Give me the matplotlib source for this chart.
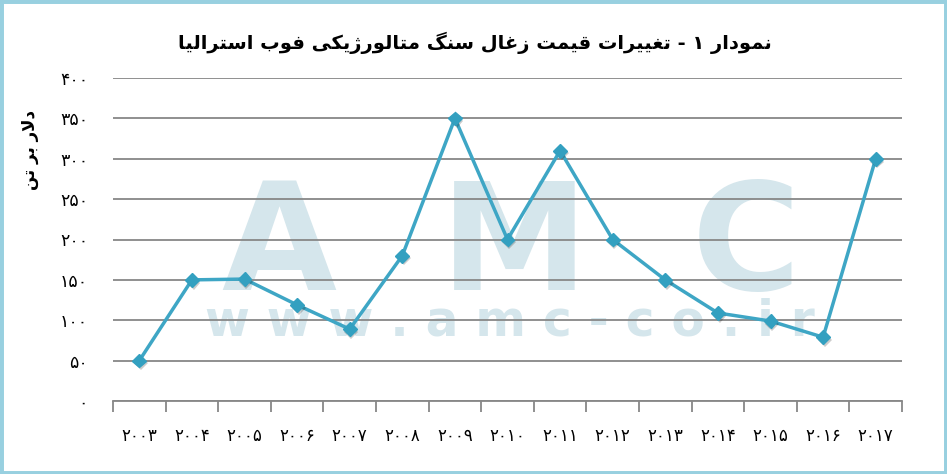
import matplotlib
matplotlib.use("Agg")
import matplotlib.pyplot as plt
from matplotlib.patches import Rectangle
import matplotlib.patheffects as pe

# ---------------- data ----------------
years = ["۲۰۰۳", "۲۰۰۴", "۲۰۰۵", "۲۰۰۶", "۲۰۰۷", "۲۰۰۸", "۲۰۰۹", "۲۰۱۰",
         "۲۰۱۱", "۲۰۱۲", "۲۰۱۳", "۲۰۱۴", "۲۰۱۵", "۲۰۱۶", "۲۰۱۷"]
prices = [50, 150, 151, 119, 89, 180, 350, 200, 310, 200, 150, 109, 99, 79, 300]
y_ticks = [0, 50, 100, 150, 200, 250, 300, 350, 400]
title_text = "نمودار ۱ - تغییرات قیمت زغال سنگ متالورژیکی فوب استرالیا"
ylabel_text = "دلار بر تن"
wm_big = "A  M  C"
wm_small = "w w w . a m c - c o . i r"

# ---------------- simple Persian shaping (presentation forms + visual order) ----------------
FORMS = {
    'ا': ('\uFE8D', '\uFE8E', None, None),
    'ب': ('\uFE8F', '\uFE90', '\uFE91', '\uFE92'),
    'ت': ('\uFE95', '\uFE96', '\uFE97', '\uFE98'),
    'د': ('\uFEA9', '\uFEAA', None, None),
    'ر': ('\uFEAD', '\uFEAE', None, None),
    'ز': ('\uFEAF', '\uFEB0', None, None),
    'ژ': ('\uFB8A', '\uFB8B', None, None),
    'س': ('\uFEB1', '\uFEB2', '\uFEB3', '\uFEB4'),
    'غ': ('\uFECD', '\uFECE', '\uFECF', '\uFED0'),
    'ف': ('\uFED1', '\uFED2', '\uFED3', '\uFED4'),
    'ق': ('\uFED5', '\uFED6', '\uFED7', '\uFED8'),
    'ک': ('\uFB8E', '\uFB8F', '\uFB90', '\uFB91'),
    'گ': ('\uFB92', '\uFB93', '\uFB94', '\uFB95'),
    'ل': ('\uFEDD', '\uFEDE', '\uFEDF', '\uFEE0'),
    'م': ('\uFEE1', '\uFEE2', '\uFEE3', '\uFEE4'),
    'ن': ('\uFEE5', '\uFEE6', '\uFEE7', '\uFEE8'),
    'و': ('\uFEED', '\uFEEE', None, None),
    'ی': ('\uFBFC', '\uFBFD', '\uFBFE', '\uFBFF'),
    'LA': ('\uFEFB', '\uFEFC', None, None),
}


def shape_word(word):
    units = []
    i = 0
    while i < len(word):
        if word[i] == 'ل' and i + 1 < len(word) and word[i + 1] == 'ا':
            units.append('LA')
            i += 2
        else:
            units.append(word[i])
            i += 1
    out = []
    for k, u in enumerate(units):
        if u not in FORMS:
            out.append(u)
            continue
        prev = units[k - 1] if k > 0 else None
        nxt = units[k + 1] if k + 1 < len(units) else None
        joins_prev = prev in FORMS and FORMS[prev][2] is not None
        joins_next = FORMS[u][2] is not None and nxt in FORMS
        iso, fin, ini, med = FORMS[u]
        if joins_prev and joins_next:
            out.append(med)
        elif joins_prev:
            out.append(fin)
        elif joins_next:
            out.append(ini)
        else:
            out.append(iso)
    return ''.join(out)


def is_arabic(word):
    return any(c in FORMS for c in word)


def rtl(text):
    toks = text.split(' ')
    vis = [shape_word(t)[::-1] if is_arabic(t) else t for t in reversed(toks)]
    return ' '.join(vis)


def fa_num(n):
    return str(n).translate(str.maketrans("0123456789", "۰۱۲۳۴۵۶۷۸۹"))


# ---------------- figure ----------------
W, H = 947, 474
fig = plt.figure(figsize=(W / 100, H / 100), dpi=100)
fig.patch.set_facecolor("white")

ax = fig.add_axes([113 / W, (H - 401) / H, (902 - 113) / W, (401 - 78) / H])
ax.set_facecolor("none")

x = list(range(len(years)))
ax.plot(x, prices, color="#3ea6c5", lw=2.5, zorder=4, clip_on=False)
mk, = ax.plot(x, prices, ls="none", marker="D", markersize=7,
              markerfacecolor="#33a0c0", markeredgecolor="#33a0c0", zorder=5, clip_on=False)
mk.set_path_effects([pe.SimplePatchShadow(offset=(1.2, -2), shadow_rgbFace="#000000", alpha=0.2),
                     pe.Normal()])

ax.set_xlim(-0.5, len(years) - 0.5)
ax.set_ylim(0, 400)

# y axis
ax.set_yticks(y_ticks)
ax.set_yticklabels([fa_num(v) for v in y_ticks], fontfamily="DejaVu Sans", fontsize=12.5)
ax.tick_params(axis="y", length=0, pad=18)
ax.yaxis.grid(True, color="#878787", lw=1.3)
ax.set_axisbelow(True)

# x axis: boundary ticks (major) and labels at centres (minor)
ax.set_xticks([i - 0.5 for i in range(len(years) + 1)])
ax.set_xticklabels([])
ax.set_xticks(x, minor=True)
ax.set_xticklabels(years, minor=True, fontfamily="DejaVu Sans", fontsize=12)
ax.tick_params(axis="x", which="major", length=8, width=1.3, color="#878787", direction="out")
ax.tick_params(axis="x", which="minor", length=0, pad=19)

for s in ["top", "right", "left"]:
    ax.spines[s].set_visible(False)
ax.spines["bottom"].set_color("#878787")
ax.spines["bottom"].set_linewidth(1.3)

# title and y label
fig.text(475 / W, 1 - 43 / H, rtl(title_text), ha="center", va="center",
         fontsize=14, fontweight="bold", fontfamily="DejaVu Sans", color="black")
fig.text(30 / W, 1 - 150 / H, rtl(ylabel_text), ha="center", va="center",
         rotation=90, fontsize=12, fontweight="bold", fontfamily="DejaVu Sans")

# watermark
wm_color = "#d5e6ec"
ax.text(511 / W, 1 - 290 / H, wm_big, transform=fig.transFigure, ha="center", va="baseline",
        fontsize=107, fontweight="bold", fontfamily="DejaVu Sans", color=wm_color, zorder=0.1)
ax.text(510 / W, 1 - 335 / H, wm_small, transform=fig.transFigure, ha="center", va="baseline",
        fontsize=35, fontweight="bold", fontfamily="DejaVu Sans", color=wm_color, zorder=0.1)

# border
fig.patches.append(Rectangle((0, 0), 1, 1, transform=fig.transFigure, fill=False,
                             edgecolor="#98d0e0", lw=5, zorder=10))

fig.savefig("out.png", dpi=100, facecolor="white")
